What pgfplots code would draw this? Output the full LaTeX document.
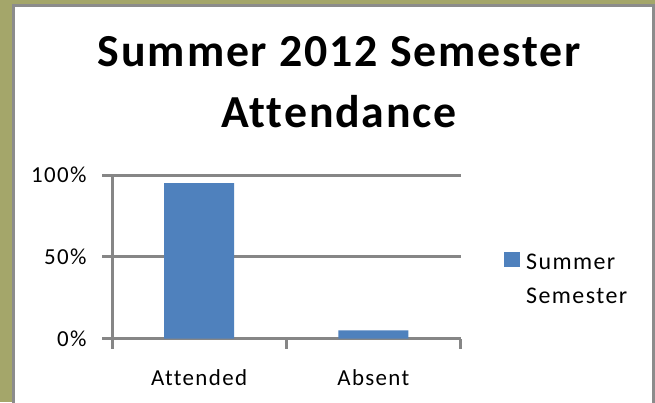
\documentclass[border=0pt]{standalone}
\usepackage{fontspec}
\setmainfont{Carlito}
\newfontfamily\titlefont[LetterSpace=4,Ligatures={NoCommon,NoRare,NoDiscretionary}]{Carlito}
\newfontfamily\labfont[LetterSpace=6,Ligatures={NoCommon,NoRare,NoDiscretionary}]{Carlito}
\usepackage{pgfplots}
\pgfplotsset{compat=1.18}
\definecolor{olivebg}{RGB}{164,166,106}
\definecolor{panelgray}{RGB}{140,140,140}
\definecolor{gridgray}{RGB}{134,134,134}
\definecolor{barblue}{RGB}{79,129,189}
\begin{document}
\begin{tikzpicture}[x=1bp,y=1bp]
\path[use as bounding box] (0,0) rectangle (655,-402);
\fill[olivebg] (0,0) rectangle (655,-402);
\filldraw[fill=white,draw=panelgray,line width=3bp] (13.5,-5.5) rectangle (653,-410);
\begin{axis}[
  at={(112bp,-338.5bp)}, anchor=south west,
  scale only axis, width=348.5bp, height=163.5bp,
  xmin=-0.5, xmax=1.5, ymin=0, ymax=100,
  axis lines*=left,
  axis line style={gridgray,line width=3bp},
  tick align=outside,
  major tick length=10bp,
  tick style={gridgray,line width=3bp},
  ymajorgrids,
  grid style={gridgray,line width=3bp},
  ytick={0,50,100}, yticklabels={0\%,50\%,100\%},
  xtick={-0.5,0.5,1.5}, x tick label as interval,
  xticklabels={Attended,Absent},
  ticklabel style={font=\labfont\fontsize{23}{28}\selectfont, text=black},
  yticklabel style={xshift=-12bp},
  xticklabel style={yshift=-18bp},
  title={Summer 2012 Semester\\[3bp]Attendance},
  title style={at={(axis description cs:0.652,1.812)}, anchor=north, align=center, inner sep=0pt,
    font=\titlefont\bfseries\fontsize{46}{58}\selectfont},
  legend style={at={(axis description cs:1.1248,0.5706)}, anchor=north west, draw=none, fill=none,
    inner sep=0pt, nodes={inner sep=0pt}, column sep=6bp, cells={anchor=base west},
    font=\labfont\fontsize{24}{34}\selectfont},
  legend image code/.code={\fill[barblue] (0bp,2bp) rectangle (16bp,17bp);},
]
\addplot[ybar, bar width=70bp, fill=barblue, draw=none] coordinates {(0,95) (1,5)};
\addlegendentry{\begin{tabular}[t]{@{}l@{}}Summer\\Semester\end{tabular}}
\end{axis}
\end{tikzpicture}
\end{document}
